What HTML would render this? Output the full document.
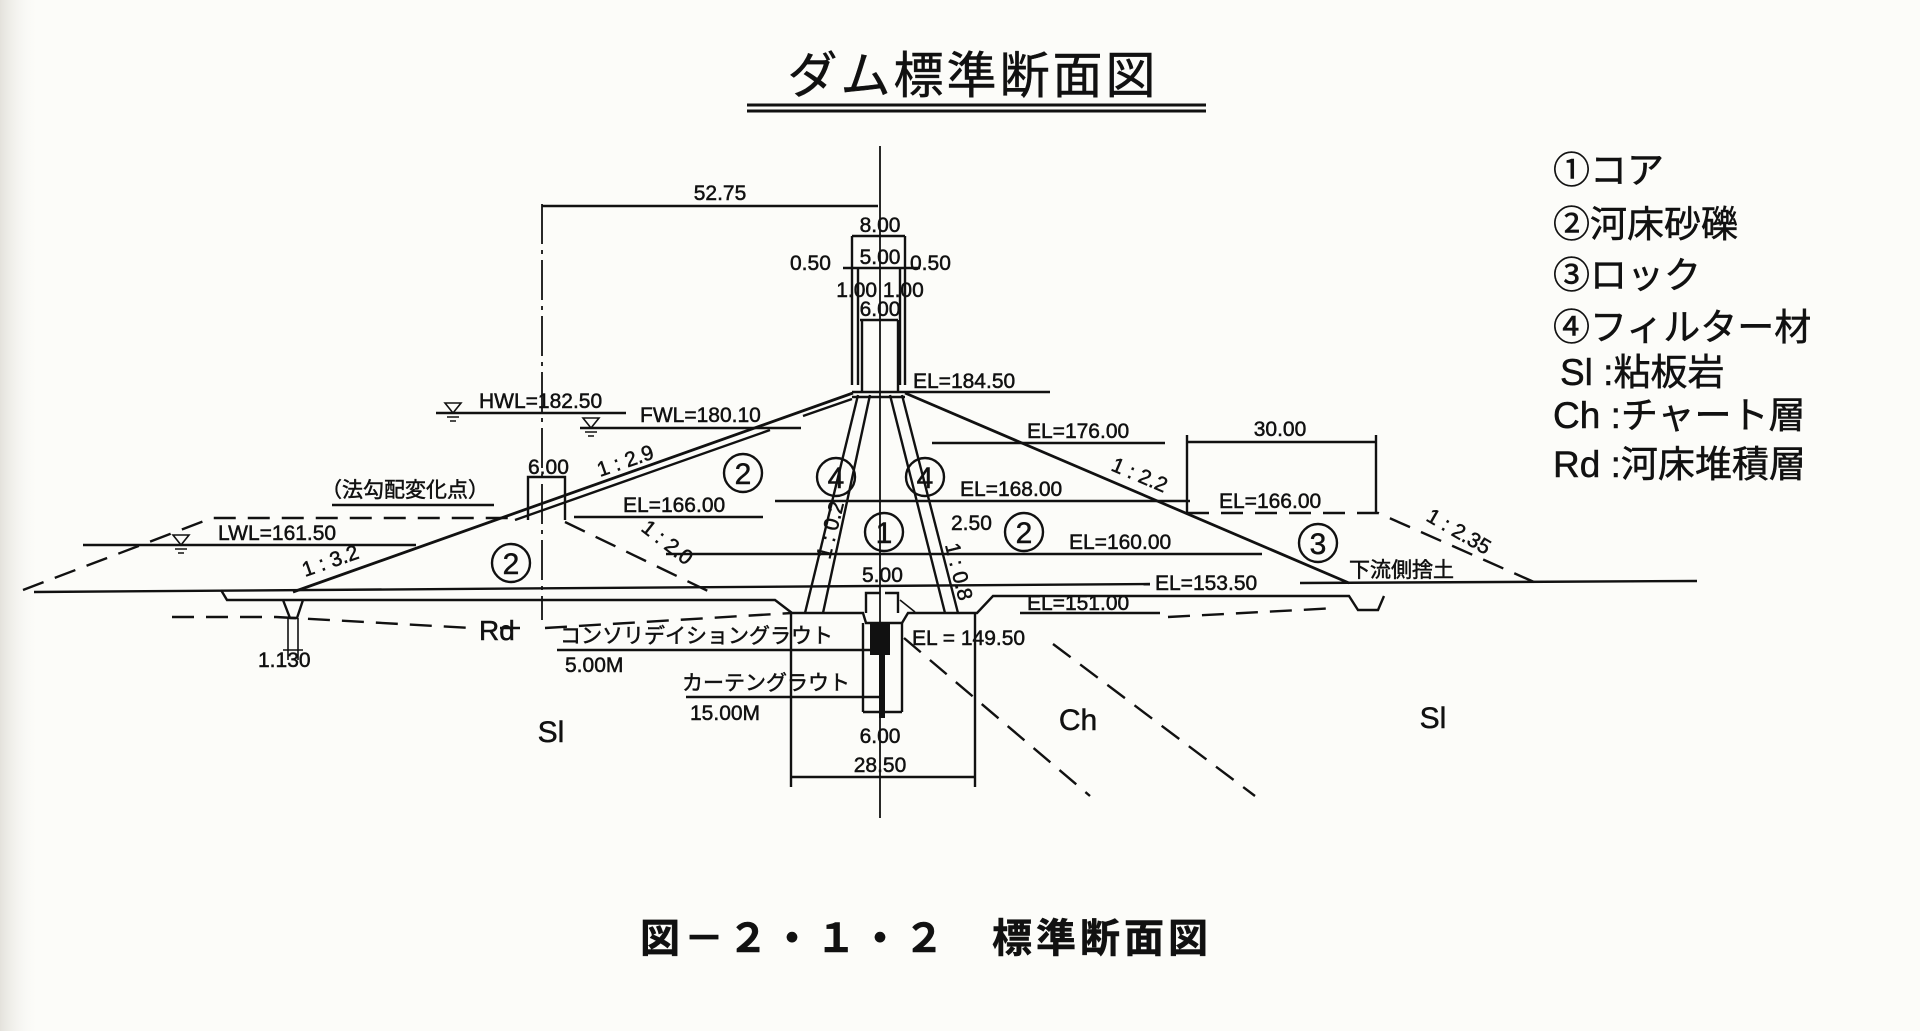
<!DOCTYPE html>
<html><head><meta charset="utf-8"><style>
html,body{margin:0;padding:0;background:#fcfcf9;}
svg{display:block}
text{font-family:"Liberation Sans","Noto Sans CJK JP",sans-serif;fill:#111;stroke:#111;stroke-width:0.5}
</style></head><body>
<svg width="1920" height="1031" viewBox="0 0 1920 1031" xmlns="http://www.w3.org/2000/svg">
<defs><linearGradient id="g" x1="0" x2="1"><stop offset="0" stop-color="#e4e2dc"/><stop offset="1" stop-color="#fcfcf9" stop-opacity="0"/></linearGradient></defs>
<rect x="0" y="0" width="40" height="1031" fill="url(#g)"/>
<g stroke="#111" fill="none" stroke-width="2.4">
<line x1="747" y1="105" x2="1206" y2="105" stroke-width="3"/>
<line x1="747" y1="111" x2="1206" y2="111" stroke-width="3"/>
<line x1="880" y1="146" x2="880" y2="818" stroke-width="1.8"/>
<line x1="542" y1="206" x2="878" y2="206"/>
<line x1="542" y1="204" x2="542" y2="620" stroke-dasharray="40,6,4,6" stroke-width="1.8"/>
<line x1="852" y1="236" x2="905" y2="236"/>
<line x1="843" y1="268" x2="920" y2="268"/>
<line x1="860" y1="320" x2="898" y2="320"/>
<line x1="852" y1="236" x2="852" y2="385"/><line x1="858" y1="268" x2="858" y2="385"/>
<line x1="905" y1="236" x2="905" y2="385"/><line x1="900" y1="268" x2="900" y2="385"/>
<line x1="862" y1="320" x2="862" y2="393"/><line x1="898" y1="320" x2="898" y2="393"/>
<line x1="852" y1="392" x2="1050" y2="392"/>
<line x1="852" y1="397" x2="905" y2="397"/>
<line x1="853" y1="393" x2="293" y2="592" stroke-width="2.8"/>
<line x1="852" y1="399" x2="803" y2="416"/>
<line x1="770" y1="430" x2="515" y2="520"/>
<line x1="905" y1="393" x2="1349" y2="583" stroke-width="2.8"/>
<line x1="858" y1="395" x2="805" y2="613"/><line x1="870" y1="395" x2="823" y2="613"/>
<line x1="890" y1="395" x2="945" y2="613"/><line x1="902" y1="395" x2="958" y2="613"/>
<line x1="932" y1="443" x2="1165" y2="443"/>
<line x1="775" y1="501" x2="1190" y2="501"/>
<line x1="574" y1="517" x2="763" y2="517"/>
<line x1="666" y1="554" x2="1262" y2="554"/>
<line x1="34" y1="592" x2="1150" y2="584"/>
<line x1="1300" y1="583" x2="1697" y2="581"/>
<line x1="1020" y1="613" x2="1160" y2="613"/>
<line x1="436" y1="413" x2="626" y2="413"/>
<line x1="580" y1="428" x2="801" y2="428"/>
<line x1="83" y1="545" x2="416" y2="545"/>
<line x1="332" y1="505" x2="494" y2="505"/>
<polyline points="221,590 227,600 775,600 792,613 863,613 866,623 902,623 908,613 977,613 993,596 1349,596 1358,610 1378,610 1384,596"/>
<polyline points="283,600 290,618 297,618 303,600" />
<line x1="288" y1="618" x2="288" y2="660" stroke-width="1.6"/><line x1="298" y1="618" x2="298" y2="660" stroke-width="1.6"/>
<line x1="283" y1="650" x2="303" y2="650" stroke-width="1.4"/>
<polyline points="528,520 528,477 565,477 565,520"/>
<g stroke-dasharray="22,12">
<polyline points="23,590 212,518 517,518"/>
<line x1="565" y1="522" x2="712" y2="593"/>
<polyline points="172,617 276,617 471,628"/>
<line x1="500" y1="628" x2="520" y2="628"/>
<polyline points="545,628 792,613"/>
<line x1="1168" y1="617" x2="1337" y2="608"/>
<polyline points="1187,513 1378,513 1534,582"/>
<line x1="904" y1="638" x2="1090" y2="796"/>
<line x1="1053" y1="644" x2="1255" y2="796"/>
</g>
<line x1="1187" y1="435" x2="1187" y2="513"/><line x1="1376" y1="435" x2="1376" y2="513"/>
<line x1="1187" y1="442" x2="1376" y2="442"/>
<polyline points="866,613 866,593 880,593"/><polyline points="885,593 898,593 898,613"/>
<line x1="900" y1="600" x2="915" y2="612" stroke-width="1.6"/>
<rect x="870" y="623" width="20" height="32" fill="#111" stroke="none"/>
<rect x="879" y="655" width="6" height="63" fill="#111" stroke="none"/>
<line x1="863" y1="623" x2="863" y2="712"/><line x1="902" y1="623" x2="902" y2="712"/>
<line x1="863" y1="712" x2="902" y2="712"/>
<line x1="557" y1="650" x2="870" y2="650"/>
<line x1="686" y1="697" x2="883" y2="697"/>
<line x1="791" y1="613" x2="791" y2="787"/><line x1="975" y1="613" x2="975" y2="787"/>
<line x1="791" y1="777" x2="975" y2="777"/>
<circle cx="743" cy="473" r="19"/><circle cx="511" cy="563" r="19"/>
<circle cx="836" cy="477" r="19"/><circle cx="925" cy="477" r="19"/>
<circle cx="884" cy="532" r="19"/><circle cx="1024" cy="532" r="19"/>
<circle cx="1318" cy="543" r="19"/>
<path d="M445,403 L461,403 L453,413 Z M447,417 L459,417 M450,421 L456,421" stroke-width="1.6"/>
<path d="M583,418 L599,418 L591,428 Z M585,432 L597,432 M588,436 L594,436" stroke-width="1.6"/>
<path d="M173,535 L189,535 L181,545 Z M175,549 L187,549 M178,553 L184,553" stroke-width="1.6"/>
</g>
<text x="973" y="93" font-size="50" text-anchor="middle" letter-spacing="3">ダム標準断面図</text>
<g font-size="30" text-anchor="middle">
<text x="743" y="484">2</text><text x="511" y="574">2</text><text x="836" y="488">4</text><text x="925" y="488">4</text>
<text x="884" y="543">1</text><text x="1024" y="543">2</text><text x="1318" y="554">3</text>
</g>
<g font-size="21">
<text x="720" y="200" text-anchor="middle">52.75</text>
<text x="880" y="232" text-anchor="middle">8.00</text>
<text x="880" y="264" text-anchor="middle">5.00</text>
<text x="790" y="270">0.50</text><text x="910" y="270">0.50</text>
<text x="880" y="297" text-anchor="middle">1.00 1.00</text>
<text x="880" y="316" text-anchor="middle">6.00</text>
<text x="913" y="388">EL=184.50</text>
<text x="1027" y="438">EL=176.00</text>
<text x="960" y="496">EL=168.00</text>
<text x="623" y="512">EL=166.00</text>
<text x="1219" y="508">EL=166.00</text>
<text x="1069" y="549">EL=160.00</text>
<text x="1155" y="590">EL=153.50</text>
<text x="1027" y="610">EL=151.00</text>
<text x="912" y="645">EL = 149.50</text>
<text x="479" y="408">HWL=182.50</text>
<text x="640" y="422">FWL=180.10</text>
<text x="218" y="540">LWL=161.50</text>
<text x="1280" y="436" text-anchor="middle">30.00</text>
<text x="528" y="474">6.00</text>
<text x="951" y="530">2.50</text>
<text x="862" y="582">5.00</text>
<text x="258" y="667">1.130</text>
<text x="880" y="743" text-anchor="middle">6.00</text>
<text x="880" y="772" text-anchor="middle">28.50</text>
<text x="565" y="672">5.00M</text>
<text x="690" y="720">15.00M</text>
<text x="321" y="497">（法勾配変化点）</text>
<text x="560" y="643">コンソリデイショングラウト</text>
<text x="682" y="690">カーテングラウト</text>
<text x="1349" y="577">下流側捨土</text>
<text transform="translate(600,477) rotate(-19)">1 : 2.9</text>
<text transform="translate(305,577) rotate(-19)">1 : 3.2</text>
<text transform="translate(640,530) rotate(38)">1 : 2.0</text>
<text transform="translate(1110,470) rotate(23)">1 : 2.2</text>
<text transform="translate(1425,520) rotate(30)">1 : 2.35</text>
<text transform="translate(830,560) rotate(-76)">1 : 0.2</text>
<text transform="translate(945,545) rotate(76)">1 : 0.8</text>
</g>
<text x="479" y="640" font-size="28">Rd</text>
<text x="551" y="742" font-size="30" text-anchor="middle">Sl</text>
<text x="1078" y="730" font-size="30" text-anchor="middle">Ch</text>
<text x="1433" y="728" font-size="30" text-anchor="middle">Sl</text>
<g font-size="37">
<text x="1553" y="183">①コア</text>
<text x="1553" y="237">②河床砂礫</text>
<text x="1553" y="288">③ロック</text>
<text x="1553" y="340">④フィルター材</text>
<text x="1560" y="385">Sl :粘板岩</text>
<text x="1553" y="428">Ch :チャート層</text>
<text x="1553" y="477">Rd :河床堆積層</text>
</g>
<text x="640" y="952" font-size="40" font-weight="bold" letter-spacing="4">図－２・１・２　標準断面図</text>
</svg>
</body></html>
